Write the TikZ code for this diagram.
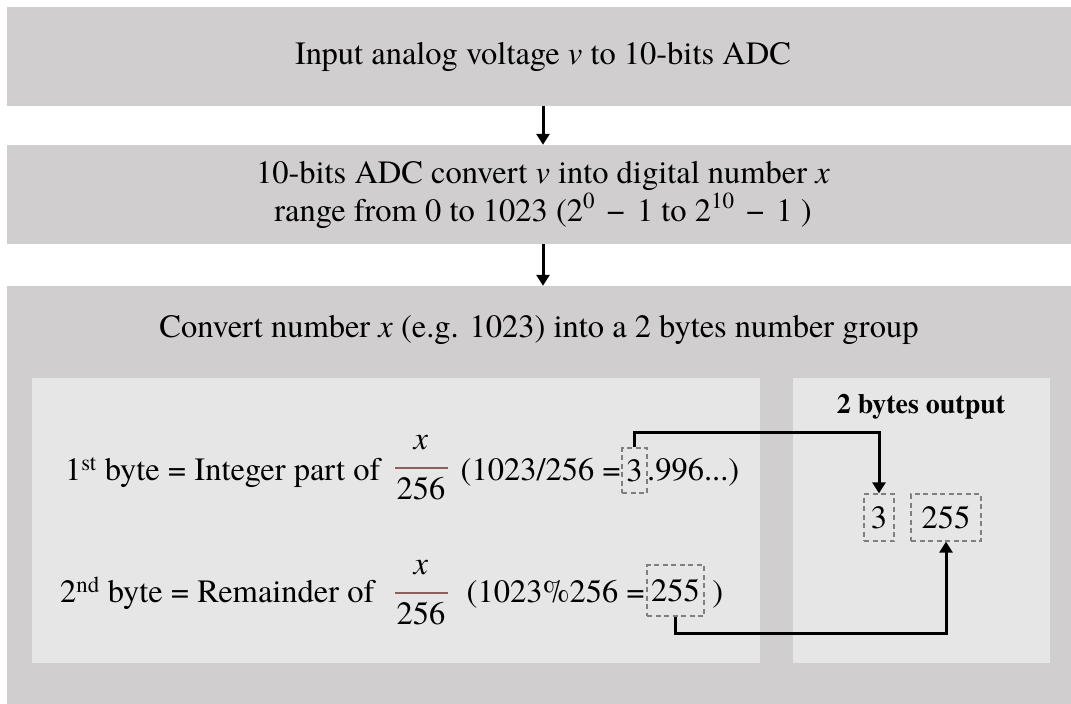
\documentclass[tikz,border=0pt]{standalone}
\usepackage{fontspec}
\setmainfont{TeX Gyre Termes}
\usetikzlibrary{arrows.meta}
\definecolor{outerg}{HTML}{D0CECE}
\definecolor{innerg}{HTML}{E7E6E6}
\definecolor{dashg}{HTML}{7F7F7F}
\definecolor{fracc}{RGB}{140,95,95}
\newcommand{\ivar}[1]{\textit{#1}}
\newcommand{\sups}[1]{\raisebox{0.4em}{\fontsize{23}{25}\selectfont #1}}
\newcommand{\mminus}{\hspace{0.37em}−\hspace{0.37em}}
\begin{document}
\begin{tikzpicture}[x=1pt,y=-1pt,
 panel/.style={fill=outerg,draw=none,inner sep=0pt,minimum width=1072pt,align=center,font=\fontsize{32.5}{38}\selectfont},
 subpanel/.style={fill=innerg,draw=none,inner sep=0pt},
 txt/.style={inner sep=0pt,font=\fontsize{32.5}{39}\selectfont},
 boldtxt/.style={inner sep=0pt,font=\fontsize{28}{33}\selectfont\bfseries},
 dbox/.style={draw=dashg,line width=1.3pt,dash pattern=on 5pt off 3.5pt,inner sep=0pt,font=\fontsize{32.5}{39}\selectfont},
 conn/.style={line width=3pt,-{Triangle[length=11pt,width=13pt]}},
 fracrule/.style={draw=fracc,line width=1.5pt},
]
\useasboundingbox (0,0) rectangle (1071,704);
\fill[white] (0,0) rectangle (1071,704);
% panels
\node[panel,minimum height=99pt] (p1) at (543,56.5) {Input analog voltage \ivar{v} to 10-bits ADC};
\node[panel,minimum height=99pt] (p2) at (543,194.5) {10-bits ADC convert \ivar{v} into digital number \ivar{x}\\range from 0 to 1023 (2\sups{0}\mminus1 to 2\sups{10}\mminus1 )};
\node[panel,minimum height=430pt] (p3) at (543,501) {};
\node[txt] (t3) at (539,330) {Convert number \ivar{x} (e.g. 1023) into a 2 bytes number group};
\node[subpanel,minimum width=728pt,minimum height=285pt] (sl) at (396,520.5) {};
\node[subpanel,minimum width=257pt,minimum height=285pt] (sr) at (921.5,520.5) {};
\draw[conn] (p1) -- (p2);
\draw[conn] (p2) -- (p3);
% right panel
\node[boldtxt] (out) at (921,407) {2 bytes output};
\node[dbox,minimum width=30pt,minimum height=47pt] (o3) at (879,517.5) {3};
\node[dbox,minimum width=70pt,minimum height=47pt] (o255) at (946,517.5) {255};
% line 1
\node[txt,anchor=base west] (l1) at (65,480) {1\textsuperscript{st} byte = Integer part of};
\node[txt] (fx1) at (421,443) {\ivar{x}};
\draw[fracrule] (395,468) -- (448,468);
\node[txt] (fd1) at (421,489) {256};
\node[txt,anchor=base east] (l1b) at (621,480) {(1023/256 =};
\node[dbox,minimum width=25pt,minimum height=45pt] (d3) at (634.5,470.5) {3};
\node[txt,anchor=base west] (l1c) at (647,480) {.996...)};
% line 2
\node[txt,anchor=base west] (l2) at (60,602) {2\textsuperscript{nd} byte = Remainder of};
\node[txt] (fx2) at (421,568) {\ivar{x}};
\draw[fracrule] (395,593) -- (448,593);
\node[txt] (fd2) at (421,614) {256};
\node[txt,anchor=base east] (l2b) at (645,602) {(1023\%256 =};
\node[dbox,minimum width=57pt,minimum height=51pt] (d255) at (675.5,590.5) {255};
\node[txt,anchor=base west] (l2c) at (704,602) {\ )};
% connectors
\draw[conn] (d3.north) -- ++(0,-15) -| (o3.north);
\draw[conn] (d255.south) -- ++(0,17) -| (o255.south);
\end{tikzpicture}
\end{document}
